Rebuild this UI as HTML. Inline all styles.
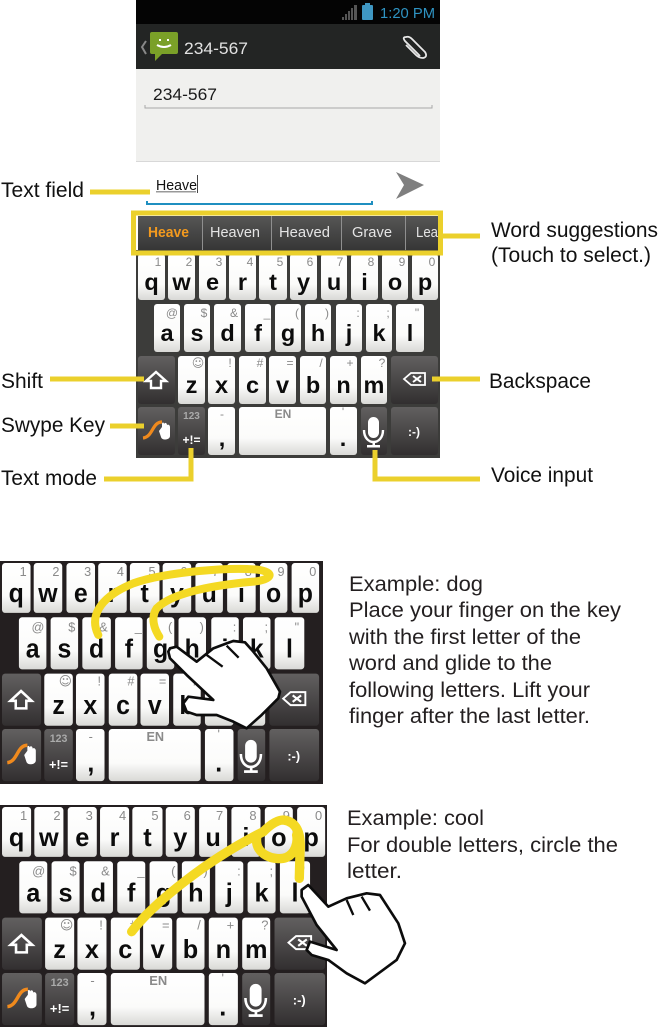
<!DOCTYPE html>
<html><head><meta charset="utf-8"><style>
html,body{margin:0;padding:0;background:#fff}
svg{display:block}
text{font-family:"Liberation Sans",sans-serif}
.m{font-size:23.5px;font-weight:700;fill:#0c0c0c;text-anchor:middle}
.h{font-size:12px;fill:#8a8a8a;text-anchor:middle}
.l{font-size:21px;fill:#111}
.p{font-size:21px;fill:#231f20}
.y{fill:none;stroke:#ebd02c;stroke-width:5}
.s{font-size:15px;fill:#e4e4e4}
</style></head><body>
<svg width="663" height="1027" viewBox="0 0 663 1027" xmlns="http://www.w3.org/2000/svg">
<defs>
<linearGradient id="w" x1="0" y1="0" x2="0" y2="1"><stop offset="0" stop-color="#fff"/><stop offset=".65" stop-color="#fbfbfa"/><stop offset="1" stop-color="#d9d9d6"/></linearGradient>
<linearGradient id="d" x1="0" y1="0" x2="0" y2="1"><stop offset="0" stop-color="#626060"/><stop offset="1" stop-color="#322f30"/></linearGradient>
<linearGradient id="b" x1="0" y1="0" x2="0" y2="1"><stop offset="0" stop-color="#565655"/><stop offset="1" stop-color="#363636"/></linearGradient>
<g id="keys">
<g fill="url(#w)">
<rect x="138" y="254" width="27" height="46" rx="3"/><rect x="168" y="254" width="27" height="46" rx="3"/><rect x="199" y="254" width="27" height="46" rx="3"/><rect x="229" y="254" width="27" height="46" rx="3"/><rect x="259" y="254" width="28" height="46" rx="3"/><rect x="290" y="254" width="27" height="46" rx="3"/><rect x="321" y="254" width="26" height="46" rx="3"/><rect x="351" y="254" width="27" height="46" rx="3"/><rect x="382" y="254" width="26" height="46" rx="3"/><rect x="412" y="254" width="26" height="46" rx="3"/>
<rect x="154" y="304" width="26" height="48" rx="3"/><rect x="184" y="304" width="26" height="48" rx="3"/><rect x="214" y="304" width="27" height="48" rx="3"/><rect x="245" y="304" width="26" height="48" rx="3"/><rect x="275" y="304" width="26" height="48" rx="3"/><rect x="305" y="304" width="26" height="48" rx="3"/><rect x="336" y="304" width="26" height="48" rx="3"/><rect x="366" y="304" width="26" height="48" rx="3"/><rect x="396" y="304" width="28" height="48" rx="3"/>
<rect x="178" y="356" width="27" height="48" rx="3"/><rect x="208" y="356" width="27" height="48" rx="3"/><rect x="239" y="356" width="27" height="48" rx="3"/><rect x="269" y="356" width="27" height="48" rx="3"/><rect x="300" y="356" width="26" height="48" rx="3"/><rect x="330" y="356" width="27" height="48" rx="3"/><rect x="361" y="356" width="26" height="48" rx="3"/>
<rect x="208" y="407" width="27" height="48" rx="3"/><rect x="239" y="407" width="87" height="48" rx="3"/><rect x="330" y="407" width="27" height="48" rx="3"/>
</g>
<g fill="url(#d)">
<rect x="138" y="356" width="37" height="48" rx="3"/><rect x="391" y="356" width="47" height="48" rx="3"/><rect x="138" y="407" width="37" height="48" rx="3"/><rect x="178" y="407" width="27" height="48" rx="3"/><rect x="361" y="407" width="26" height="48" rx="3"/><rect x="391" y="407" width="47" height="48" rx="3"/>
</g>
<path d="M156,372 L166,381 L161,381 L161,388 L151,388 L151,381 L146,381Z" fill="none" stroke="#fff" stroke-width="2.4"/>
<path d="M404,379 L411,373 H425 V385 H411Z" fill="none" stroke="#fff" stroke-width="1.8"/>
<path d="M413,376 L421,382 M421,376 L413,382" stroke="#fff" stroke-width="2"/>
<path d="M143,438 C153,437 152,422 162,422" fill="none" stroke="#f08a1d" stroke-width="3.2"/>
<path d="M159,431 L162,427 V424 C162,422 164,422 164,424 C165,422 167,423 167,425 C168,424 170,425 170,427 V436 C170,440 162,441 161,437Z" fill="#fff"/>
<rect x="368" y="417" width="11" height="21" rx="5.5" fill="#fff"/>
<path d="M364,430 C364,446 383,446 383,430" fill="none" stroke="#fff" stroke-width="2.4"/>
<rect x="372.500" y="442" width="2.500" height="5" fill="#fff"/><rect x="367" y="445" width="13" height="2.500" fill="#fff"/>
</g>
</defs>

<!-- Phone screen -->
<rect x="136" y="0" width="304" height="24" fill="#040404"/>
<rect x="136" y="24" width="304" height="46" fill="#232524"/>
<rect x="136" y="69" width="304" height="93" fill="#f0f0ee"/>
<rect x="136" y="161" width="304" height="1" fill="#d8d8d8"/>
<g fill="#555"><rect x="342" y="17" width="2" height="3"/><rect x="345" y="14" width="2" height="6"/><rect x="348" y="11" width="2" height="9"/><rect x="351" y="8" width="2" height="12"/><rect x="354" y="5" width="3" height="15"/></g>
<rect x="362" y="5" width="11" height="15" rx="1" fill="#3f97c2"/><rect x="365" y="3" width="5" height="2" fill="#3f97c2"/>
<text x="380" y="18" font-size="15" fill="#2f93c2" textLength="55" lengthAdjust="spacingAndGlyphs">1:20 PM</text>
<path d="M146,41 L142,47 L146,54" fill="none" stroke="#888" stroke-width="2"/>
<path d="M152,32 H176 Q178,32 178,34 V52 Q178,54 176,54 H162 L155,61 V54 H152 Q150,54 150,52 V34 Q150,32 152,32Z" fill="#7aa028"/>
<path d="M157,45 Q164,49 171,45" fill="none" stroke="#fff" stroke-width="2"/><rect x="159" y="39" width="2" height="2" fill="#fff"/><rect x="167" y="39" width="2" height="2" fill="#fff"/>
<text x="184" y="54" font-size="17" fill="#e2e2e2" textLength="64" lengthAdjust="spacingAndGlyphs">234-567</text>
<path d="M420,56 L405,41 Q402,37 406,37 Q409,36 412,39 L425,52 Q428,57 423,58 Q419,58 416,55 L406,45" fill="none" stroke="#e8e8e8" stroke-width="1.8"/>
<text x="153" y="100" font-size="17" fill="#1a1a1a" textLength="64" lengthAdjust="spacingAndGlyphs">234-567</text>
<path d="M145,105 V108 H432 V105" fill="none" stroke="#a8a8a8"/>
<text x="156" y="190" font-size="14.500" fill="#111" textLength="41" lengthAdjust="spacingAndGlyphs">Heave</text>
<rect x="156" y="191" width="40" height="1.500" fill="#999"/>
<rect x="197" y="175" width="1" height="18" fill="#444"/>
<path d="M147,201 V204 H372 V201" fill="none" stroke="#1f8fc0" stroke-width="2"/>
<path d="M396,172 L424,185 L396,199 L404,185Z" fill="#7f7f7f"/>

<!-- Suggestions -->
<rect x="138" y="216" width="300" height="34" fill="url(#b)"/>
<g fill="#8f8f8f"><rect x="202" y="216" width="1" height="34"/><rect x="271" y="216" width="1" height="34"/><rect x="341" y="216" width="1" height="34"/><rect x="405" y="216" width="1" height="34"/></g>
<text x="148" y="237" font-size="15" font-weight="700" fill="#f39a1e" textLength="41" lengthAdjust="spacingAndGlyphs">Heave</text>
<text x="210" y="237" class="s" textLength="50" lengthAdjust="spacingAndGlyphs">Heaven</text>
<text x="279" y="237" class="s" textLength="51" lengthAdjust="spacingAndGlyphs">Heaved</text>
<text x="352" y="237" class="s" textLength="40" lengthAdjust="spacingAndGlyphs">Grave</text>
<text x="416" y="237" class="s" textLength="22" lengthAdjust="spacingAndGlyphs">Lea</text>

<!-- Keyboard 1 -->
<rect x="136" y="250" width="304" height="208" fill="#3c3c3a"/>
<use href="#keys"/>
<g>
<text class="m" x="151.500" y="290">q</text><text class="m" x="181.500" y="290">w</text><text class="m" x="212.500" y="290">e</text><text class="m" x="242.500" y="290">r</text><text class="m" x="273" y="290">t</text><text class="m" x="303.500" y="290">y</text><text class="m" x="334" y="290">u</text><text class="m" x="364.500" y="290">i</text><text class="m" x="395" y="290">o</text><text class="m" x="425" y="290">p</text>
<text class="m" x="167" y="341">a</text><text class="m" x="197" y="341">s</text><text class="m" x="227.500" y="341">d</text><text class="m" x="258" y="341">f</text><text class="m" x="288" y="341">g</text><text class="m" x="318" y="341">h</text><text class="m" x="349" y="341">j</text><text class="m" x="379" y="341">k</text><text class="m" x="410" y="341">l</text>
<text class="m" x="191.500" y="393">z</text><text class="m" x="221.500" y="393">x</text><text class="m" x="252.500" y="393">c</text><text class="m" x="282.500" y="393">v</text><text class="m" x="313" y="393">b</text><text class="m" x="343.500" y="393">n</text><text class="m" x="374" y="393">m</text>
<text class="m" x="222" y="446">,</text><text class="m" x="343" y="446">.</text>
<text class="h" x="158" y="266">1</text><text class="h" x="189" y="266">2</text><text class="h" x="219" y="266">3</text><text class="h" x="250" y="266">4</text><text class="h" x="280" y="266">5</text><text class="h" x="310" y="266">6</text><text class="h" x="340" y="266">7</text><text class="h" x="371" y="266">8</text><text class="h" x="402" y="266">9</text><text class="h" x="432" y="266">0</text>
<text class="h" x="172" y="317">@</text><text class="h" x="204" y="317">$</text><text class="h" x="234" y="317">&amp;</text><text class="h" x="267" y="317">_</text><text class="h" x="297" y="317">(</text><text class="h" x="327" y="317">)</text><text class="h" x="358" y="317">:</text><text class="h" x="388" y="317">;</text><text class="h" x="417" y="317">"</text>
<text class="h" x="198" y="367" style="font-family:'DejaVu Sans'">☺</text><text class="h" x="230" y="367">!</text><text class="h" x="260" y="367">#</text><text class="h" x="290" y="367">=</text><text class="h" x="321" y="367">/</text><text class="h" x="350" y="367">+</text><text class="h" x="382" y="367">?</text>
<text class="h" x="222" y="418">-</text><text class="h" x="283" y="418" font-weight="700">EN</text><text class="h" x="343" y="416">'</text>
<text class="h" x="191.500" y="419" style="font-size:10px;font-weight:700;fill:#aaa">123</text><text class="h" x="191.500" y="444" style="font-weight:700;fill:#fff">+!=</text><text class="h" x="414" y="436" style="fill:#fff;font-weight:700">:-)</text>
</g>

<!-- Callouts -->
<rect x="133.500" y="213" width="307" height="40" fill="none" stroke="#ebd02c" stroke-width="5"/>
<path class="y" d="M90,192 H150"/>
<path class="y" d="M443,236 H480"/>
<path class="y" d="M50,379 H144"/>
<path class="y" d="M110,426 H144"/>
<path class="y" d="M104,479 H191 V448"/>
<path class="y" d="M375,450 V479 H480"/>
<path class="y" d="M432,379 H480"/>
<text class="l" x="1" y="197" textLength="83" lengthAdjust="spacingAndGlyphs">Text field</text>
<text class="l" x="1" y="388" textLength="42" lengthAdjust="spacingAndGlyphs">Shift</text>
<text class="l" x="1" y="432" textLength="104" lengthAdjust="spacingAndGlyphs">Swype Key</text>
<text class="l" x="1" y="485" textLength="96" lengthAdjust="spacingAndGlyphs">Text mode</text>
<text class="l" x="491" y="237" textLength="167" lengthAdjust="spacingAndGlyphs">Word suggestions</text>
<text class="l" x="491" y="262" textLength="160" lengthAdjust="spacingAndGlyphs">(Touch to select.)</text>
<text class="l" x="489" y="388" textLength="102" lengthAdjust="spacingAndGlyphs">Backspace</text>
<text class="l" x="491" y="482" textLength="102" lengthAdjust="spacingAndGlyphs">Voice input</text>

<!-- Keyboard 2 -->
<rect x="0" y="561" width="323" height="223" fill="#241f20"/>
<g transform="matrix(1.057,0,0,1.085,-143.87,287.4)">
<use href="#keys"/>
<text class="m" x="151.500" y="290">q</text><text class="m" x="181.500" y="290">w</text><text class="m" x="212.500" y="290">e</text><text class="m" x="242.500" y="290">r</text><text class="m" x="273" y="290">t</text><text class="m" x="303.500" y="290">y</text><text class="m" x="334" y="290">u</text><text class="m" x="364.500" y="290">i</text><text class="m" x="395" y="290">o</text><text class="m" x="425" y="290">p</text>
<text class="m" x="167" y="341">a</text><text class="m" x="197" y="341">s</text><text class="m" x="227.500" y="341">d</text><text class="m" x="258" y="341">f</text><text class="m" x="288" y="341">g</text><text class="m" x="318" y="341">h</text><text class="m" x="349" y="341">j</text><text class="m" x="379" y="341">k</text><text class="m" x="410" y="341">l</text>
<text class="m" x="191.500" y="393">z</text><text class="m" x="221.500" y="393">x</text><text class="m" x="252.500" y="393">c</text><text class="m" x="282.500" y="393">v</text><text class="m" x="313" y="393">b</text><text class="m" x="343.500" y="393">n</text><text class="m" x="374" y="393">m</text>
<text class="m" x="222" y="446">,</text><text class="m" x="343" y="446">.</text>
<text class="h" x="158" y="266">1</text><text class="h" x="189" y="266">2</text><text class="h" x="219" y="266">3</text><text class="h" x="250" y="266">4</text><text class="h" x="280" y="266">5</text><text class="h" x="310" y="266">6</text><text class="h" x="340" y="266">7</text><text class="h" x="371" y="266">8</text><text class="h" x="402" y="266">9</text><text class="h" x="432" y="266">0</text>
<text class="h" x="172" y="317">@</text><text class="h" x="204" y="317">$</text><text class="h" x="234" y="317">&amp;</text><text class="h" x="267" y="317">_</text><text class="h" x="297" y="317">(</text><text class="h" x="327" y="317">)</text><text class="h" x="358" y="317">:</text><text class="h" x="388" y="317">;</text><text class="h" x="417" y="317">"</text>
<text class="h" x="198" y="367" style="font-family:'DejaVu Sans'">☺</text><text class="h" x="230" y="367">!</text><text class="h" x="260" y="367">#</text><text class="h" x="290" y="367">=</text><text class="h" x="321" y="367">/</text><text class="h" x="350" y="367">+</text><text class="h" x="382" y="367">?</text>
<text class="h" x="222" y="418">-</text><text class="h" x="283" y="418" font-weight="700">EN</text><text class="h" x="343" y="416">'</text>
<text class="h" x="191.500" y="419" style="font-size:10px;font-weight:700;fill:#aaa">123</text><text class="h" x="191.500" y="444" style="font-weight:700;fill:#fff">+!=</text><text class="h" x="414" y="436" style="fill:#fff;font-weight:700">:-)</text>
</g>
<g transform="translate(0,555) scale(.3333)">
<path d="M295,240 C270,190 290,130 400,85 C500,50 700,35 780,45 C830,55 810,75 760,80 C650,90 520,110 470,160 C450,190 465,225 478,245" fill="none" stroke="#f4d923" stroke-width="24" stroke-linecap="round"/>
<path d="M510,280 L530,275 L590,320 L640,280 L680,265 L700,258 L735,262 L760,290 L800,340 L840,410 L835,430 L785,480 L740,520 L700,500 L650,480 L590,480 L560,470 L550,445 L565,425 L640,435 L560,360 L510,310 L505,290Z" fill="#fff" stroke="#0c0c0c" stroke-width="8" stroke-linejoin="round"/>
<path d="M620,300 L668,335 M680,272 L716,308" fill="none" stroke="#0c0c0c" stroke-width="7"/>
</g>
<text class="p" x="349" y="591" textLength="134" lengthAdjust="spacingAndGlyphs">Example: dog</text>
<text class="p" x="349" y="617" textLength="272" lengthAdjust="spacingAndGlyphs">Place your finger on the key</text>
<text class="p" x="349" y="644" textLength="232" lengthAdjust="spacingAndGlyphs">with the first letter of the</text>
<text class="p" x="349" y="670" textLength="203" lengthAdjust="spacingAndGlyphs">word and glide to the</text>
<text class="p" x="349" y="697" textLength="241" lengthAdjust="spacingAndGlyphs">following letters. Lift your</text>
<text class="p" x="349" y="723" textLength="241" lengthAdjust="spacingAndGlyphs">finger after the last letter.</text>

<!-- Keyboard 3 -->
<rect x="0" y="805" width="327" height="222" fill="#241f20"/>
<g transform="matrix(1.077,0,0,1.085,-146.6,531.4)">
<use href="#keys"/>
<text class="m" x="151.500" y="290">q</text><text class="m" x="181.500" y="290">w</text><text class="m" x="212.500" y="290">e</text><text class="m" x="242.500" y="290">r</text><text class="m" x="273" y="290">t</text><text class="m" x="303.500" y="290">y</text><text class="m" x="334" y="290">u</text><text class="m" x="364.500" y="290">i</text><text class="m" x="395" y="290">o</text><text class="m" x="425" y="290">p</text>
<text class="m" x="167" y="341">a</text><text class="m" x="197" y="341">s</text><text class="m" x="227.500" y="341">d</text><text class="m" x="258" y="341">f</text><text class="m" x="288" y="341">g</text><text class="m" x="318" y="341">h</text><text class="m" x="349" y="341">j</text><text class="m" x="379" y="341">k</text><text class="m" x="410" y="341">l</text>
<text class="m" x="191.500" y="393">z</text><text class="m" x="221.500" y="393">x</text><text class="m" x="252.500" y="393">c</text><text class="m" x="282.500" y="393">v</text><text class="m" x="313" y="393">b</text><text class="m" x="343.500" y="393">n</text><text class="m" x="374" y="393">m</text>
<text class="m" x="222" y="446">,</text><text class="m" x="343" y="446">.</text>
<text class="h" x="158" y="266">1</text><text class="h" x="189" y="266">2</text><text class="h" x="219" y="266">3</text><text class="h" x="250" y="266">4</text><text class="h" x="280" y="266">5</text><text class="h" x="310" y="266">6</text><text class="h" x="340" y="266">7</text><text class="h" x="371" y="266">8</text><text class="h" x="402" y="266">9</text><text class="h" x="432" y="266">0</text>
<text class="h" x="172" y="317">@</text><text class="h" x="204" y="317">$</text><text class="h" x="234" y="317">&amp;</text><text class="h" x="267" y="317">_</text><text class="h" x="297" y="317">(</text><text class="h" x="327" y="317">)</text><text class="h" x="358" y="317">:</text><text class="h" x="388" y="317">;</text><text class="h" x="417" y="317">"</text>
<text class="h" x="198" y="367" style="font-family:'DejaVu Sans'">☺</text><text class="h" x="230" y="367">!</text><text class="h" x="260" y="367">#</text><text class="h" x="290" y="367">=</text><text class="h" x="321" y="367">/</text><text class="h" x="350" y="367">+</text><text class="h" x="382" y="367">?</text>
<text class="h" x="222" y="418">-</text><text class="h" x="283" y="418" font-weight="700">EN</text><text class="h" x="343" y="416">'</text>
<text class="h" x="191.500" y="419" style="font-size:10px;font-weight:700;fill:#aaa">123</text><text class="h" x="191.500" y="444" style="font-weight:700;fill:#fff">+!=</text><text class="h" x="414" y="436" style="fill:#fff;font-weight:700">:-)</text>
</g>
<g transform="translate(0,800) scale(.3333)">
<path d="M395,395 C460,310 620,180 790,95 C810,75 830,60 850,60 C890,65 905,100 900,160 L898,235 M770,115 C765,165 825,185 860,172 C885,160 895,130 890,105" fill="none" stroke="#f4d923" stroke-width="28" stroke-linecap="round"/>
<path d="M905,270 L925,255 L985,320 L1040,295 L1100,280 L1140,285 L1195,370 L1215,430 L1190,480 L1095,550 L1040,520 L985,480 L935,465 L920,450 L930,425 L1010,450 L950,375 L905,290Z" fill="#fff" stroke="#0c0c0c" stroke-width="8" stroke-linejoin="round"/>
<path d="M1040,300 L1060,345 M1085,290 L1110,332" fill="none" stroke="#0c0c0c" stroke-width="7"/>
</g>
<text class="p" x="347" y="825" textLength="137" lengthAdjust="spacingAndGlyphs">Example: cool</text>
<text class="p" x="347" y="852" textLength="271" lengthAdjust="spacingAndGlyphs">For double letters, circle the</text>
<text class="p" x="347" y="878" textLength="55" lengthAdjust="spacingAndGlyphs">letter.</text>
</svg>
</body></html>
